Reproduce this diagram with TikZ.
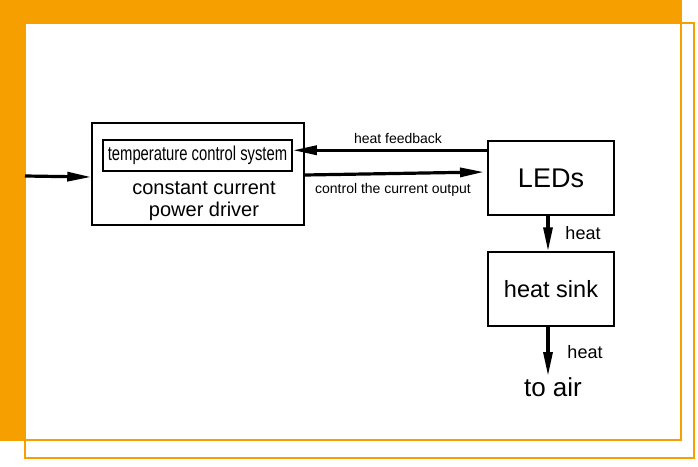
\documentclass[tikz,border=0pt]{standalone}
\usepackage{fontspec}
\setmainfont{Liberation Sans}
\usetikzlibrary{arrows.meta}
\definecolor{orng}{RGB}{245,160,0}
\tikzset{
  box/.style={draw=black,line width=1.5pt,minimum width=126pt,minimum height=74pt,inner sep=0pt},
  conn/.style={line width=3.2pt,-{Triangle[length=24pt,width=9pt]}},
  lbl/.style={inner sep=0pt,font=\fontsize{14}{16}\selectfont},
}
\begin{document}
\begin{tikzpicture}[x=1pt,y=-1pt]
\useasboundingbox (0,0) rectangle (698,466);
% frame
\fill[orng] (1,1) rectangle (681,440);
\fill[white] (25,23) rectangle (681,440);
\draw[orng,line width=1.5pt] (1,1) rectangle (681,440);
\draw[orng,line width=1.5pt] (25,23) rectangle (694,458);
% nodes
\node[box,minimum width=212pt,minimum height=102pt] (drv) at (198,174) {};
\node[draw=black,line width=1.5pt,minimum width=189pt,minimum height=31pt,inner sep=0pt] (tcs) at (197.5,155.5)
  {\scalebox{0.74}[1]{\fontsize{20}{22}\selectfont temperature control system}};
\node[align=center,inner sep=0pt,font=\fontsize{20}{22}\selectfont] (drvtxt) at (204,201) {constant current\\power driver};
\node[box,font=\fontsize{27}{30}\selectfont] (led) at (551,178) {LEDs};
\node[box,font=\fontsize{23.5}{26}\selectfont] (hs) at (551,289) {heat sink};
\node[inner sep=0pt,font=\fontsize{26}{28}\selectfont] (air) at (553,387) {to air};
\coordinate (in) at (25,176);
\coordinate (fbstart) at ([yshift=-10pt]led.north west);
\coordinate (ctlend) at (484,172);
\coordinate (airend) at (548,376);
% connectors
\draw[conn] (in) -- ([yshift=-3pt]drv.west);
\draw[conn] (fbstart) -- (tcs.east |- fbstart);
\draw[conn] ([yshift=-1pt]drv.east) -- (ctlend);
\draw[conn] ([xshift=-3pt]led.south) -- ([xshift=-3pt]hs.north);
\draw[conn] ([xshift=-3pt]hs.south) -- (airend);
% labels
\node[lbl] (l1) at (398,138) {heat feedback};
\node[lbl] (l2) at (393,190) {control the current output};
\node[lbl,font=\fontsize{18}{20}\selectfont] (l3) at (583,233) {heat};
\node[lbl,font=\fontsize{18}{20}\selectfont] (l4) at (585,352) {heat};
\end{tikzpicture}
\end{document}
